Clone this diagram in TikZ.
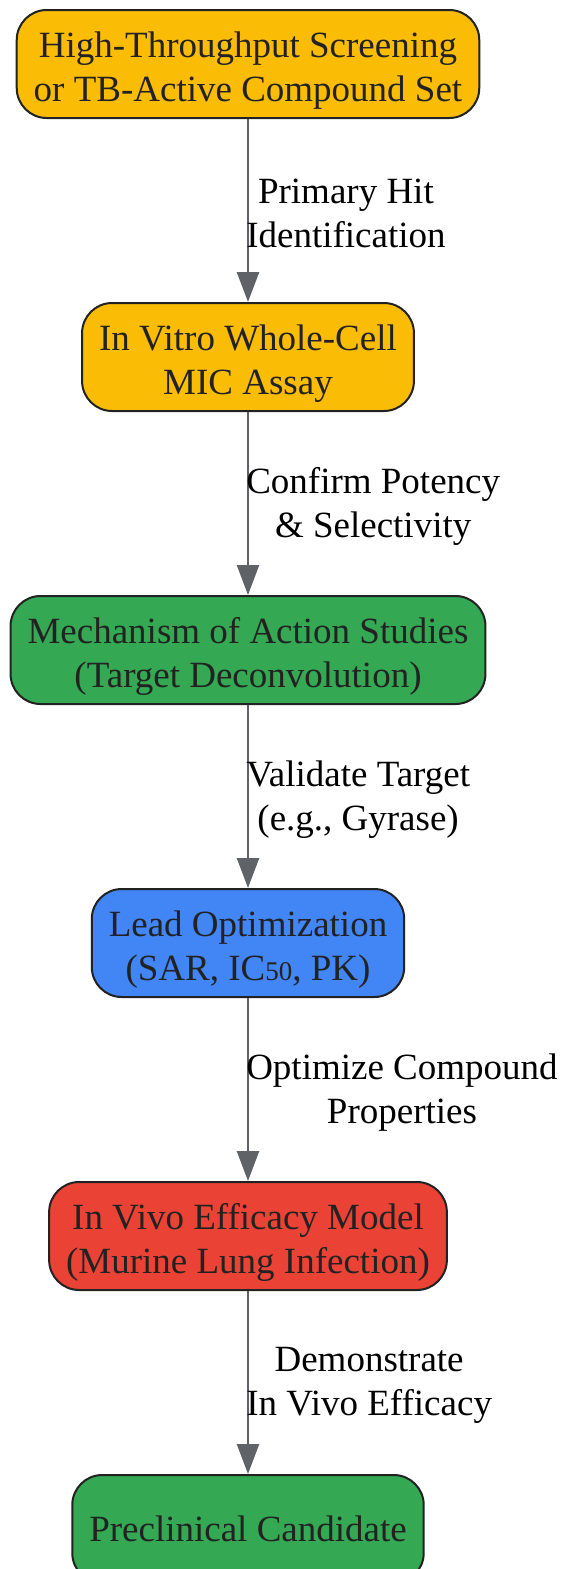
\documentclass[tikz,border=0pt]{standalone}
\usepackage{fontspec}
\setmainfont{Liberation Serif}
\usetikzlibrary{arrows.meta}

\definecolor{hityellow}{HTML}{FBBC05}
\definecolor{moagreen}{HTML}{34A853}
\definecolor{leadblue}{HTML}{4285F4}
\definecolor{vivored}{HTML}{EA4335}
\definecolor{boxline}{HTML}{222222}
\definecolor{flowgray}{HTML}{5F6368}

\tikzset{
  stage/.style={draw=boxline, line width=2pt, rounded corners=30pt,
    minimum height=108pt, inner xsep=17pt, align=center, text=boxline,
    font=\fontsize{37}{44}\selectfont},
  twoline/.style={stage, execute at begin node={\rule{0pt}{82pt}}},
  flow/.style={draw=flowgray, line width=2.5pt, -{Triangle[length=30pt,width=22pt]}},
  flowlabel/.style={anchor=west, align=center, inner sep=0pt, xshift=-3pt, yshift=-3pt,
    text=black, font=\fontsize{37}{44}\selectfont}
}

\begin{document}
\begin{tikzpicture}[x=1pt,y=1pt]
    \useasboundingbox (0,0) rectangle (563,-1569);
    \node[twoline,fill=hityellow](hts)at(248,-64){High-Throughput Screening\\or TB-Active Compound Set};
    \node[twoline,fill=hityellow](mic)at(248,-357){In Vitro Whole-Cell\\MIC Assay};
    \node[twoline,fill=moagreen](moa)at(248,-650){Mechanism of Action Studies\\(Target Deconvolution)};
    \node[twoline,fill=leadblue](lead)at(248,-943){Lead Optimization\\(SAR, IC{\fontsize{27}{27}\selectfont 50}, PK)};
    \node[twoline,fill=vivored](invivo)at(248,-1236){In Vivo Efficacy Model\\(Murine Lung Infection)};
    \node[stage,fill=moagreen](cand)at(248,-1529){Preclinical Candidate};
    % connectors between the stages
    \draw[flow](hts)--(mic) node[midway,flowlabel](l1){Primary Hit\\Identification};
    \draw[flow](mic)--(moa) node[midway,flowlabel](l2){Confirm Potency\\\& Selectivity};
    \draw[flow](moa)--(lead) node[midway,flowlabel](l3){Validate Target\\(e.g., Gyrase)};
    \draw[flow](lead)--(invivo) node[midway,flowlabel](l4){Optimize Compound\\Properties};
    \draw[flow](invivo)--(cand) node[midway,flowlabel](l5){Demonstrate\\In Vivo Efficacy};
\end{tikzpicture}
\end{document}
